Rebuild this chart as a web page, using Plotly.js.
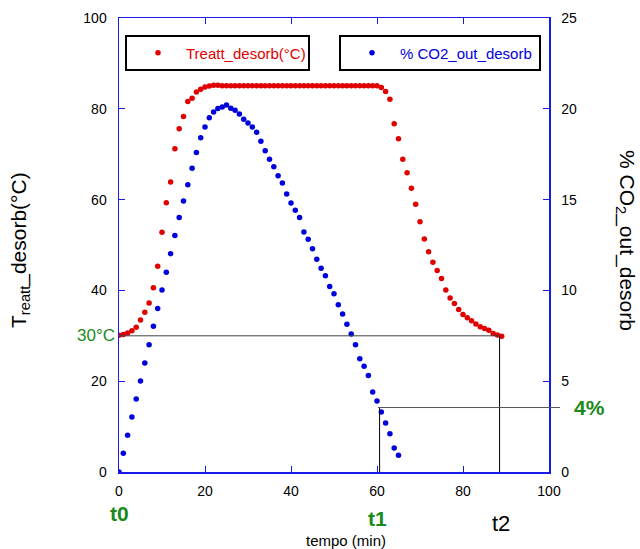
<!DOCTYPE html>
<html>
<head>
<meta charset="utf-8">
<script src="https://cdn.plot.ly/plotly-3.0.1.min.js"></script>
<style>html,body{margin:0;padding:0;background:#fff;}#chart{width:640px;height:549px;}</style>
</head>
<body>
<div id="chart"></div>
<script>
// time (min) for each series
const timeT = [];
for (let i = 0; i <= 89; i++) timeT.push(i);
const timeCO2 = [];
for (let i = 0; i <= 65; i++) timeCO2.push(i);

// Treatt_desorb (°C)
const tempValues = [
  30.1, 30.3, 30.6, 31.1, 31.9, 33.5, 35.2, 37.2, 40.6, 45.3,
  52.8, 59.3, 63.9, 71.2, 75.6, 78.3, 81.6, 82.3, 83.7, 84.3,
  84.8, 85.0, 85.2, 85.2, 85.1, 85.1, 85.1, 85.1, 85.1, 85.1,
  85.1, 85.1, 85.1, 85.1, 85.1, 85.1, 85.1, 85.1, 85.1, 85.1,
  85.1, 85.1, 85.1, 85.1, 85.1, 85.1, 85.1, 85.1, 85.1, 85.1,
  85.1, 85.1, 85.1, 85.1, 85.1, 85.1, 85.1, 85.1, 85.1, 85.1,
  85.1, 84.7, 83.8, 82.1, 76.7, 73.4, 68.9, 65.9, 62.5, 59.0,
  55.1, 51.3, 48.5, 46.2, 44.4, 42.6, 40.1, 38.3, 37.1, 35.8,
  34.7, 34.0, 33.3, 32.6, 32.0, 31.6, 31.2, 30.5, 30.2, 29.9
];

// % CO2_out_desorb
const co2Values = [
  0.0, 1.03, 2.02, 3.03, 4.02, 5.01, 6.0, 7.01, 8.02, 9.01,
  10.02, 11.0, 12.02, 13.03, 14.02, 14.92, 15.82, 16.72, 17.6, 18.41,
  19.0, 19.51, 19.82, 20.01, 20.1, 20.21, 20.03, 19.92, 19.71, 19.42,
  19.22, 19.0, 18.71, 18.21, 17.69, 17.22, 16.81, 16.32, 15.91, 15.31,
  14.81, 14.41, 14.02, 13.22, 12.81, 12.3, 11.71, 11.22, 10.81, 10.21,
  9.82, 9.21, 8.7, 8.13, 7.6, 7.01, 6.24, 5.82, 5.32, 4.41,
  3.91, 3.3, 2.7, 2.11, 1.32, 0.92
];

// reference markers
const t0 = 0, t1 = 60.6, t2 = 88.5;
const tempRef = 30;     // °C
const co2Ref = 3.55;    // %

const xTicks = [0, 20, 40, 60, 80, 100];
const yTicks = [0, 20, 40, 60, 80, 100];
const y2Ticks = [0, 5, 10, 15, 20, 25];

const FONT = 'Liberation Sans, Arial, sans-serif';
const AXIS = '#1a1ae6';
const GREEN = '#1a8a1a';
const RED = '#e00000';
const BLUE = '#0000dd';

const traces = [
  {
    x: timeT, y: tempValues, type: 'scatter', mode: 'markers',
    name: 'Treatt_desorb(°C)', legend: 'legend',
    marker: {color: RED, size: 5.5}, yaxis: 'y'
  },
  {
    x: timeCO2, y: co2Values, type: 'scatter', mode: 'markers',
    name: '% CO2_out_desorb', legend: 'legend2',
    marker: {color: BLUE, size: 5.5}, yaxis: 'y2'
  }
];

const layout = {
  width: 640, height: 549,
  margin: {l: 119, r: 91, t: 18, b: 77},
  paper_bgcolor: '#fff', plot_bgcolor: '#fff',
  font: {family: FONT, size: 14, color: '#000'},
  showlegend: true,
  xaxis: {
    range: [0, 100], tickvals: xTicks, ticktext: xTicks.map(String),
    ticks: 'inside', ticklen: 6, tickcolor: AXIS, tickwidth: 1,
    showline: true, linecolor: AXIS, linewidth: 1.5, mirror: 'ticks',
    showgrid: false, zeroline: false, ticklabelstandoff: 6,
    tickfont: {size: 14, color: '#000'}
  },
  yaxis: {
    range: [0, 100], tickvals: yTicks, ticktext: yTicks.map(String),
    ticks: 'inside', ticklen: 6, tickcolor: AXIS, tickwidth: 1,
    showline: true, linecolor: AXIS, linewidth: 1.5,
    showgrid: false, zeroline: false, ticklabelstandoff: 8,
    tickfont: {size: 14, color: '#000'}
  },
  yaxis2: {
    range: [0, 25], tickvals: y2Ticks, ticktext: y2Ticks.map(String),
    overlaying: 'y', side: 'right',
    ticks: 'inside', ticklen: 6, tickcolor: AXIS, tickwidth: 1,
    showline: true, linecolor: AXIS, linewidth: 1.5,
    showgrid: false, zeroline: false, ticklabelstandoff: 8,
    tickfont: {size: 14, color: '#000'}
  },
  legend: {
    x: (130 - 119) / 430, y: (472 - 53) / 454, xanchor: 'left', yanchor: 'middle',
    bgcolor: 'rgba(0,0,0,0)', borderwidth: 0, itemwidth: 46,
    font: {size: 15, color: RED, family: FONT}
  },
  legend2: {
    x: (344 - 119) / 430, y: (472 - 53) / 454, xanchor: 'left', yanchor: 'middle',
    bgcolor: 'rgba(0,0,0,0)', borderwidth: 0, itemwidth: 46,
    font: {size: 15, color: BLUE, family: FONT}
  },
  shapes: [
    // legend frames
    {type: 'rect', xref: 'paper', yref: 'paper',
     x0: (126 - 119) / 430, x1: (309 - 119) / 430, y0: (472 - 70) / 454, y1: (472 - 36) / 454,
     line: {color: '#000', width: 2}},
    {type: 'rect', xref: 'paper', yref: 'paper',
     x0: (340 - 119) / 430, x1: (540 - 119) / 430, y0: (472 - 70) / 454, y1: (472 - 36) / 454,
     line: {color: '#000', width: 2}},
    // 30°C horizontal
    {type: 'line', xref: 'x', yref: 'y', x0: 0, x1: t2, y0: tempRef, y1: tempRef,
     line: {color: '#444', width: 1}},
    // t2 vertical
    {type: 'line', xref: 'x', yref: 'y', x0: t2, x1: t2, y0: 0, y1: tempRef,
     line: {color: '#000', width: 1}},
    // t1 vertical
    {type: 'line', xref: 'x', yref: 'y2', x0: t1, x1: t1, y0: 0, y1: co2Ref,
     line: {color: '#000', width: 1}},
    // 4% horizontal (extends beyond the right axis)
    {type: 'line', xref: 'paper', yref: 'y2', x0: (378 - 119) / 430, x1: (560 - 119) / 430, y0: co2Ref, y1: co2Ref,
     line: {color: '#555', width: 1}}
  ],
  annotations: [
    {text: '30°C', xref: 'paper', yref: 'y', x: 0, xshift: -2, y: tempRef, xanchor: 'right', yanchor: 'middle',
     showarrow: false, font: {size: 17, color: GREEN, family: FONT}},
    {text: '<b>4%</b>', xref: 'paper', yref: 'y2', x: (572 - 119) / 430, y: co2Ref, xanchor: 'left', yanchor: 'middle',
     showarrow: false, font: {size: 21, color: GREEN, family: FONT}},
    {text: '<b>t0</b>', xref: 'x', yref: 'paper', x: t0, y: (472 - 513) / 454, xanchor: 'center', yanchor: 'middle',
     showarrow: false, font: {size: 21, color: GREEN, family: FONT}},
    {text: '<b>t1</b>', xref: 'x', yref: 'paper', x: 60, y: (472 - 518) / 454, xanchor: 'center', yanchor: 'middle',
     showarrow: false, font: {size: 21, color: GREEN, family: FONT}},
    {text: 't2', xref: 'x', yref: 'paper', x: 88.8, y: (472 - 523) / 454, xanchor: 'center', yanchor: 'middle',
     showarrow: false, font: {size: 22, color: '#000', family: FONT}},
    {text: 'tempo (min)', xref: 'paper', yref: 'paper', x: (346 - 119) / 430, y: (472 - 540) / 454, xanchor: 'center', yanchor: 'middle',
     showarrow: false, font: {size: 15, color: '#000', family: FONT}},
    {text: 'T<sub>reatt</sub>_desorb(°C)', xref: 'paper', yref: 'paper', x: (20 - 119) / 430, y: (472 - 250) / 454,
     xanchor: 'center', yanchor: 'middle', textangle: -90,
     showarrow: false, font: {size: 21, color: '#000', family: FONT}},
    {text: '% CO<sub>2</sub>_out_desorb', xref: 'paper', yref: 'paper', x: (626 - 119) / 430, y: (472 - 240) / 454,
     xanchor: 'center', yanchor: 'middle', textangle: 90,
     showarrow: false, font: {size: 21, color: '#000', family: FONT}}
  ]
};

Plotly.newPlot('chart', traces, layout, {displayModeBar: false, staticPlot: true});
</script>
</body>
</html>
